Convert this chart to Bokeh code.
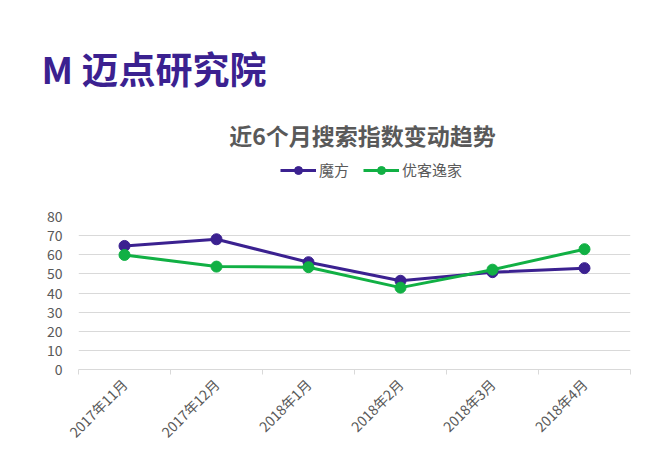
from bokeh.plotting import figure
from bokeh.models import (Range1d, FixedTicker, Label, Legend, LegendItem, ColumnDataSource, Title)
from bokeh.layouts import column
from bokeh.embed import file_html
from bokeh.resources import INLINE
import math

# ---- data ----
months = ["2017年11月", "2017年12月", "2018年1月", "2018年2月", "2018年3月", "2018年4月"]
mofang = [64.6, 68.1, 56.1, 46.4, 50.9, 53.0]
youke = [59.9, 53.8, 53.5, 42.8, 52.2, 62.9]
series_names = ["魔方", "优客逸家"]
y_ticks = [0, 10, 20, 30, 40, 50, 60, 70, 80]
title_text = "近6个月搜索指数变动趋势"
logo_text = "M 迈点研究院"

PURPLE = "#3B2190"
GREEN = "#11B044"
FONT = "Noto Sans CJK SC"
W = 634
HEAD_H = 200
LEFT = 78
RIGHT = 630

# ---------------- header (logo, title, legend) ----------------
head = figure(width=W, height=HEAD_H, output_backend="svg", toolbar_location=None,
              x_range=Range1d(LEFT, RIGHT), y_range=Range1d(0, 1),
              x_axis_type=None, y_axis_type=None,
              min_border_left=0, min_border_right=0, min_border_bottom=0, min_border_top=96)
head.outline_line_color = None
head.xgrid.visible = False
head.ygrid.visible = False

head.title = Title(text=logo_text, align="left", offset=41 - LEFT, standoff=3,
                   text_font=FONT, text_font_size="37px", text_font_style="bold",
                   text_color=PURPLE, vertical_align="bottom")

head.add_layout(Label(x=362, y=HEAD_H - 134, y_units="screen", text=title_text,
                      text_align="center", text_baseline="middle", text_font=FONT,
                      text_font_size="23px", text_font_style="bold", text_color="#595959"))

# legend proxies (outside the visible range)
hl1 = head.line([0, 1], [-5, -5], line_color=PURPLE, line_width=3)
hs1 = head.scatter([0.5], [-5], size=10, fill_color=PURPLE, line_color=PURPLE)
hl2 = head.line([0, 1], [-5, -5], line_color=GREEN, line_width=3)
hs2 = head.scatter([0.5], [-5], size=10, fill_color=GREEN, line_color=GREEN)
legend = Legend(items=[LegendItem(label=series_names[0], renderers=[hl1, hs1]),
                       LegendItem(label=series_names[1], renderers=[hl2, hs2])],
                orientation="horizontal", location=(280 - LEFT, HEAD_H - 180),
                label_text_font=FONT, label_text_font_size="15px", label_text_color="#595959",
                glyph_width=36, glyph_height=20, label_height=20, label_standoff=3,
                spacing=14, padding=0, margin=0,
                border_line_color=None, background_fill_alpha=0)
head.add_layout(legend, "center")

# ---------------- chart ----------------
xs = [i + 0.5 for i in range(len(months))]

p = figure(width=W, height=451 - HEAD_H, output_backend="svg", toolbar_location=None,
           x_range=Range1d(0, len(months)), y_range=Range1d(0, 80),
           min_border_left=LEFT, min_border_right=W - RIGHT, min_border_top=16, min_border_bottom=82)
p.outline_line_color = None

p.yaxis.ticker = FixedTicker(ticks=y_ticks)
p.yaxis.axis_line_color = None
p.yaxis.major_tick_line_color = None
p.yaxis.minor_tick_line_color = None
p.yaxis.major_label_text_color = "#595959"
p.yaxis.major_label_text_font = FONT
p.yaxis.major_label_text_font_size = "14px"
p.yaxis.major_label_standoff = 10

p.xaxis.ticker = FixedTicker(ticks=xs, minor_ticks=list(range(len(months) + 1)))
p.xaxis.major_label_overrides = {x: m for x, m in zip(xs, months)}
p.xaxis.major_tick_line_color = None
p.xaxis.minor_tick_line_color = "#d9d9d9"
p.xaxis.minor_tick_out = 5
p.xaxis.minor_tick_in = 0
p.xaxis.axis_line_color = "#d9d9d9"
p.xaxis.major_label_orientation = math.pi / 4
p.xaxis.major_label_text_color = "#595959"
p.xaxis.major_label_text_font = FONT
p.xaxis.major_label_text_font_size = "14px"
p.xaxis.major_label_standoff = 6

p.xgrid.grid_line_color = None
p.ygrid.grid_line_color = "#d9d9d9"
p.ygrid.ticker = FixedTicker(ticks=y_ticks)

src = ColumnDataSource(dict(x=xs, a=mofang, b=youke))
p.line("x", "a", source=src, line_color=PURPLE, line_width=3)
p.scatter("x", "a", source=src, size=11, fill_color=PURPLE, line_color=PURPLE)
p.line("x", "b", source=src, line_color=GREEN, line_width=3)
p.scatter("x", "b", source=src, size=11, fill_color=GREEN, line_color=GREEN)

layout = column(head, p, spacing=0)
open("out.html", "w").write(file_html(layout, INLINE))
